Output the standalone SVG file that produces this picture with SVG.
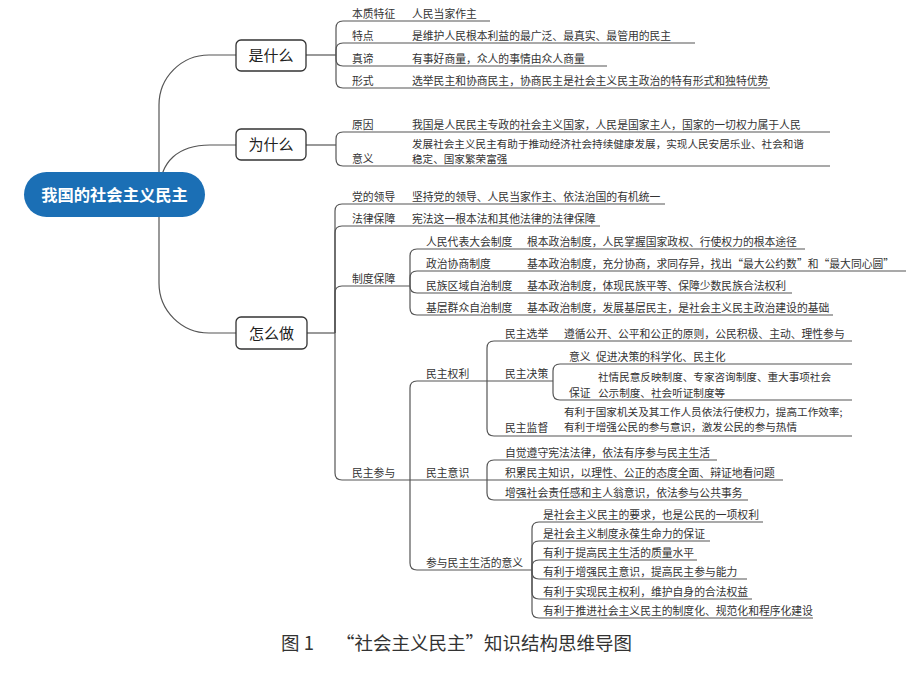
<svg xmlns="http://www.w3.org/2000/svg" width="908" height="677" viewBox="0 0 908 677">
<style>
.t{font-family:"Noto Sans CJK SC","Noto Sans",sans-serif;font-size:10.8px;fill:#333}
.m{font-size:10.6px}
.b{font-family:"Noto Sans CJK SC","Noto Sans",sans-serif;font-size:15px;fill:#222;text-anchor:middle}
.box{fill:#fff;stroke:#333;stroke-width:1.3}
.c path{fill:none;stroke:#555;stroke-width:1.2}
</style>
<rect width="908" height="677" fill="#fff"/>
<g class="c" id="connectors">
<path d="M159,217 V105 A50,50 0 0 1 209,55 H236"/>
<path d="M160,190 C160,162 178,145 210,145 H236"/>
<path d="M159,200 V283 A50,50 0 0 0 209,333 H236"/>
<path d="M306,55 H336"/>
<path d="M336,55 V28 Q336,21 343,21 H490"/>
<path d="M336,55 V50 Q336,43 343,43 H695"/>
<path d="M336,55 V59 Q336,66 343,66 H607"/>
<path d="M336,55 V81 Q336,88 343,88 H770"/>
<path d="M306,145 H336"/>
<path d="M336,145 V139 Q336,132 343,132 H830"/>
<path d="M336,145 V159 Q336,166 343,166 H830"/>
<path d="M307,333 H335"/>
<path d="M335,333 V211 Q335,204 342,204 H665"/>
<path d="M335,333 V233 Q335,226 342,226 H600"/>
<path d="M335,333 V293 Q335,286 342,286 H410"/>
<path d="M335,333 V473 Q335,480 342,480 H410"/>
<path d="M410,286 V256 Q410,249 417,249 H805"/>
<path d="M410,286 V278 Q410,271 417,271 H906"/>
<path d="M410,286 V286 Q410,293 417,293 H792"/>
<path d="M410,286 V308 Q410,315 417,315 H833"/>
<path d="M410,480 V388 Q410,381 417,381 H487"/>
<path d="M410,480 H487"/>
<path d="M410,480 V563 Q410,570 417,570 H532"/>
<path d="M487,381 V348 Q487,341 494,341 H852"/>
<path d="M487,381 H553"/>
<path d="M487,381 V429 Q487,436 494,436 H852"/>
<path d="M553,381 V371 Q553,364 560,364 H852"/>
<path d="M553,381 V393 Q553,400 560,400 H852"/>
<path d="M487,480 V467 Q487,460 494,460 H717"/>
<path d="M487,480 H783"/>
<path d="M487,480 V493 Q487,500 494,500 H748"/>
<path d="M532,570 V529 Q532,522 539,522 H763"/>
<path d="M532,570 V548 Q532,541 539,541 H710"/>
<path d="M532,570 V567 Q532,560 539,560 H697"/>
<path d="M532,570 V572 Q532,579 539,579 H747"/>
<path d="M532,570 V592 Q532,599 539,599 H752"/>
<path d="M532,570 V611 Q532,618 539,618 H813"/>
</g>
<g id="root">
<rect x="24" y="172" width="181" height="45" rx="22.5" fill="#1b6fb5"/>
<text x="114.5" y="200.5" text-anchor="middle" style="font-family:'Noto Sans CJK SC',sans-serif;font-size:16.3px;font-weight:bold;fill:#fff">我国的社会主义民主</text>
</g>
<g id="shi">
<rect class="box" x="236" y="40" width="70" height="31" rx="5"/>
<text class="b" x="271" y="61">是什么</text>
</g>
<g id="wei">
<rect class="box" x="236" y="129" width="70" height="31" rx="5"/>
<text class="b" x="271" y="150">为什么</text>
</g>
<g id="zen">
<rect class="box" x="236" y="317" width="71" height="32" rx="5"/>
<text class="b" x="271.5" y="338.5">怎么做</text>
</g>
<g id="shi-items">
<text class="t" x="352" y="18">本质特征</text><text class="t" x="412" y="18">人民当家作主</text>
<text class="t" x="352" y="40">特点</text><text class="t" x="412" y="40">是维护人民根本利益的最广泛、最真实、最管用的民主</text>
<text class="t" x="352" y="63">真谛</text><text class="t" x="412" y="63">有事好商量，众人的事情由众人商量</text>
<text class="t" x="352" y="85">形式</text><text class="t" x="412" y="85">选举民主和协商民主，协商民主是社会主义民主政治的特有形式和独特优势</text>
</g>
<g id="wei-items">
<text class="t" x="352" y="163">意义</text>
<text class="t" x="352" y="129">原因</text><text class="t" x="412" y="129">我国是人民民主专政的社会主义国家，人民是国家主人，国家的一切权力属于人民</text>
<text class="t m" x="412" y="147.5">发展社会主义民主有助于推动经济社会持续健康发展，实现人民安居乐业、社会和谐</text>
<text class="t m" x="412" y="163">稳定、国家繁荣富强</text>
</g>
<g id="zen-items">
<text class="t" x="352" y="201">党的领导</text><text class="t" x="412" y="201">坚持党的领导、人民当家作主、依法治国的有机统一</text>
<text class="t" x="352" y="223">法律保障</text><text class="t" x="412" y="223">宪法这一根本法和其他法律的法律保障</text>
<text class="t" x="352" y="283">制度保障</text>
<text class="t" x="352" y="477">民主参与</text>
</g>
<g id="zhidu-items">
<text class="t" x="426" y="246">人民代表大会制度</text><text class="t" x="527" y="246">根本政治制度，人民掌握国家政权、行使权力的根本途径</text>
<text class="t" x="426" y="268">政治协商制度</text><text class="t" x="527" y="268">基本政治制度，充分协商，求同存异，找出“最大公约数”和“最大同心圆”</text>
<text class="t" x="426" y="290">民族区域自治制度</text><text class="t" x="527" y="290">基本政治制度，体现民族平等、保障少数民族合法权利</text>
<text class="t" x="426" y="312">基层群众自治制度</text><text class="t" x="527" y="312">基本政治制度，发展基层民主，是社会主义民主政治建设的基础</text>
</g>
<g id="canyu-items">
<text class="t" x="426" y="378">民主权利</text>
<text class="t" x="426" y="477">民主意识</text>
<text class="t" x="426" y="567">参与民主生活的意义</text>
</g>
<g id="quanli-items">
<text class="t" x="505" y="338">民主选举</text><text class="t" x="564" y="338">遵循公开、公平和公正的原则，公民积极、主动、理性参与</text>
<text class="t" x="505" y="378">民主决策</text>
<text class="t" x="569" y="361">意义</text><text class="t" x="596" y="361">促进决策的科学化、民主化</text>
<text class="t" x="569" y="397">保证</text>
<text class="t m" x="598" y="381">社情民意反映制度、专家咨询制度、重大事项社会</text>
<text class="t m" x="598" y="396.5">公示制度、社会听证制度等</text>
<text class="t" x="505" y="432">民主监督</text>
<text class="t m" x="564" y="415.5">有利于国家机关及其工作人员依法行使权力，提高工作效率;</text>
<text class="t m" x="564" y="431">有利于增强公民的参与意识，激发公民的参与热情</text>
</g>
<g id="yishi-items">
<text class="t" x="505" y="457">自觉遵守宪法法律，依法有序参与民主生活</text>
<text class="t" x="505" y="477">积累民主知识，以理性、公正的态度全面、辩证地看问题</text>
<text class="t" x="505" y="497">增强社会责任感和主人翁意识，依法参与公共事务</text>
</g>
<g id="yiyi-items">
<text class="t" x="543" y="519">是社会主义民主的要求，也是公民的一项权利</text>
<text class="t" x="543" y="538">是社会主义制度永葆生命力的保证</text>
<text class="t" x="543" y="557">有利于提高民主生活的质量水平</text>
<text class="t" x="543" y="576">有利于增强民主意识，提高民主参与能力</text>
<text class="t" x="543" y="596">有利于实现民主权利，维护自身的合法权益</text>
<text class="t" x="543" y="615">有利于推进社会主义民主的制度化、规范化和程序化建设</text>
</g>
<g id="caption" style="font-family:'Noto Sans CJK SC',sans-serif;font-size:18.5px;fill:#333">
<text x="281" y="650">图 1</text>
<text x="336" y="650">“社会主义民主”知识结构思维导图</text>
</g>
</svg>
